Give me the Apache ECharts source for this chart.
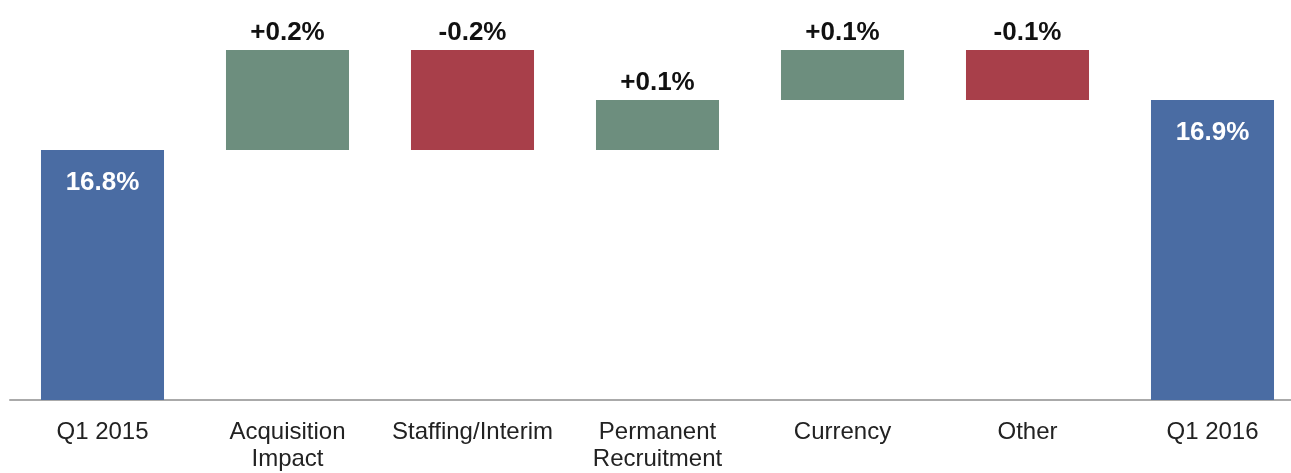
<!DOCTYPE html>
<html>
<head>
<meta charset="utf-8">
<script src="https://cdn.jsdelivr.net/npm/echarts@6/dist/echarts.min.js"></script>
<style>
  html, body { margin: 0; padding: 0; background: #fff; overflow: hidden; }
  #chart { width: 1305px; height: 473px; }
</style>
</head>
<body>
<div id="chart"></div>
<script>
  // 数据
  var categories = ['Q1 2015', 'Acquisition\nImpact', 'Staffing/Interim', 'Permanent\nRecruitment', 'Currency', 'Other', 'Q1 2016'];
  var startValue = 16.8;
  var changes = [0.2, -0.2, 0.1, 0.1, -0.1];
  var endValue = 16.9;

  // 拼出瀑布图的底座和柱高
  var baseList = [0];
  var barList = [{ value: startValue, itemStyle: { color: '#4a6ca3' } }];
  var labelList = [startValue.toFixed(1) + '%'];
  var level = startValue;
  changes.forEach(function (d) {
    var next = Math.round((level + d) * 10) / 10;
    baseList.push(Math.min(level, next));
    barList.push({ value: Math.abs(d), itemStyle: { color: d >= 0 ? '#6d8e7e' : '#a83f4a' } });
    labelList.push((d >= 0 ? '+' : '') + d.toFixed(1) + '%');
    level = next;
  });
  baseList.push(0);
  barList.push({ value: endValue, itemStyle: { color: '#4a6ca3' } });
  labelList.push(endValue.toFixed(1) + '%');

  var last = categories.length - 1;
  var chart = echarts.init(document.getElementById('chart'));
  chart.setOption({
    animation: false,
    grid: { left: 10, right: 0, top: 0, bottom: 71 },
    xAxis: {
      type: 'category',
      data: categories,
      axisLine: { lineStyle: { color: '#aaaaaa', width: 2 } },
      axisTick: { show: false },
      axisLabel: {
        interval: 0,
        color: '#222',
        fontSize: 24,
        lineHeight: 27,
        margin: 19,
        fontFamily: 'Liberation Sans, Arial, sans-serif'
      }
    },
    yAxis: {
      type: 'value',
      min: 16.3,
      max: 17.1,
      show: false
    },
    series: [{
      type: 'bar',
      stack: 'w',
      barWidth: '66.5%',
      itemStyle: { color: 'transparent' },
      silent: true,
      data: baseList
    }, {
      type: 'bar',
      stack: 'w',
      barWidth: '66.5%',
      data: barList.map(function (b, i) {
        var isTotal = i === 0 || i === last;
        b.label = isTotal
          ? { position: 'insideTop', distance: 20, color: '#fff' }
          : { position: 'top', distance: 4, color: '#111' };
        return b;
      }),
      label: {
        show: true,
        fontSize: 26,
        fontWeight: 'bold',
        fontFamily: 'Liberation Sans, Arial, sans-serif',
        formatter: function (p) { return labelList[p.dataIndex]; }
      }
    }]
  });
</script>
</body>
</html>
